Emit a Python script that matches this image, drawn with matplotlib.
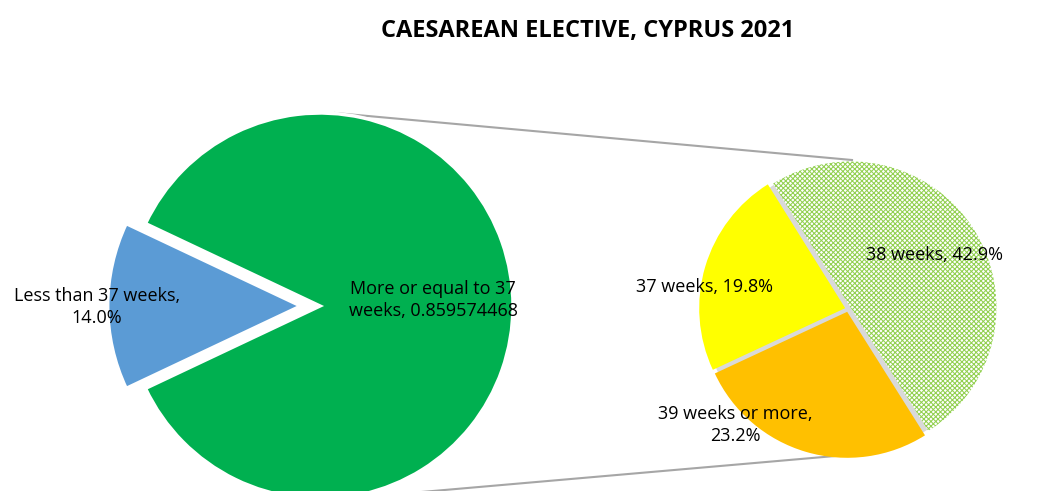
import matplotlib
matplotlib.use("Agg")
import matplotlib.pyplot as plt
from matplotlib.patches import Circle

# ---- data ----
title = "CAESAREAN ELECTIVE, CYPRUS 2021"
main_labels = ["Less than 37 weeks", "More or equal to 37 weeks"]
main_values = [0.140425532, 0.859574468]
sub_labels = ["38 weeks", "39 weeks or more", "37 weeks"]
sub_values = [0.429, 0.232, 0.198]

main_colors = ["#5b9bd5", "#00b050"]
sub_colors = ["#ffffff", "#ffc000", "#ffff00"]

plt.rcParams["hatch.linewidth"] = 0.75

W, H = 1042, 491
fig = plt.figure(figsize=(W / 100, H / 100), dpi=100)
ax = fig.add_axes([0, 0, 1, 1])

font = "Open Sans"
fs = 13

# main pie (pixel-space layout, y measured from bottom)
c1 = (320, H - 306)
r1 = 193
blue_angle = main_values[0] * 360
wedges1, _ = ax.pie(main_values, colors=main_colors, startangle=180 - blue_angle / 2,
                    explode=[0.1 * r1, 0], center=c1, radius=r1, frame=True,
                    wedgeprops=dict(linewidth=2.5, edgecolor="#ffffff"))
for w in wedges1:
    w.set_zorder(1)

# secondary pie
c2 = (848, H - 309)
r2 = 146
ax.add_patch(Circle(c2, r2 * 0.99, facecolor="#d9d9d9", edgecolor="none", zorder=0.5))
wedges2, _ = ax.pie(sub_values, colors=sub_colors, startangle=122, counterclock=False,
                    explode=[0.02 * r2] * 3, center=c2, radius=r2, frame=True,
                    wedgeprops=dict(linewidth=0))
wedges2[0].set_hatch("xxxxxxx")
wedges2[0].set_edgecolor("#92d050")
wedges2[0].set_linewidth(0)

ax.set_xlim(0, W)
ax.set_ylim(0, H)
ax.set_aspect("equal")
ax.axis("off")

# connector lines
ax.plot([335, 852], [H - 113, H - 160], color="#a6a6a6", lw=1.5, zorder=0.4)
ax.plot([410, 858], [H - 493, H - 454], color="#a6a6a6", lw=1.5, zorder=0.4)

# labels
ax.text(97, H - 307, f"{main_labels[0]},\n{main_values[0]*100:.1f}%",
        ha="center", va="center", fontsize=fs, family=font, linespacing=1.3, zorder=5)
ax.text(433, H - 300, f"More or equal to 37\nweeks, {main_values[1]}",
        ha="center", va="center", fontsize=fs, family=font, linespacing=1.3, zorder=5)
ax.text(935, H - 255, f"{sub_labels[0]}, {sub_values[0]*100:.1f}%",
        ha="center", va="center", fontsize=fs, family=font, zorder=5)
ax.text(735, H - 425, f"{sub_labels[1]},\n{sub_values[1]*100:.1f}%",
        ha="center", va="center", fontsize=fs, family=font, linespacing=1.3, zorder=5)
ax.text(705, H - 287, f"{sub_labels[2]}, {sub_values[2]*100:.1f}%",
        ha="center", va="center", fontsize=fs, family=font, zorder=5)

fig.text(588 / W, 1 - 31 / H, title, ha="center", va="center", fontsize=17,
         fontweight="bold", family=font)

fig.savefig("out.png", dpi=100)
